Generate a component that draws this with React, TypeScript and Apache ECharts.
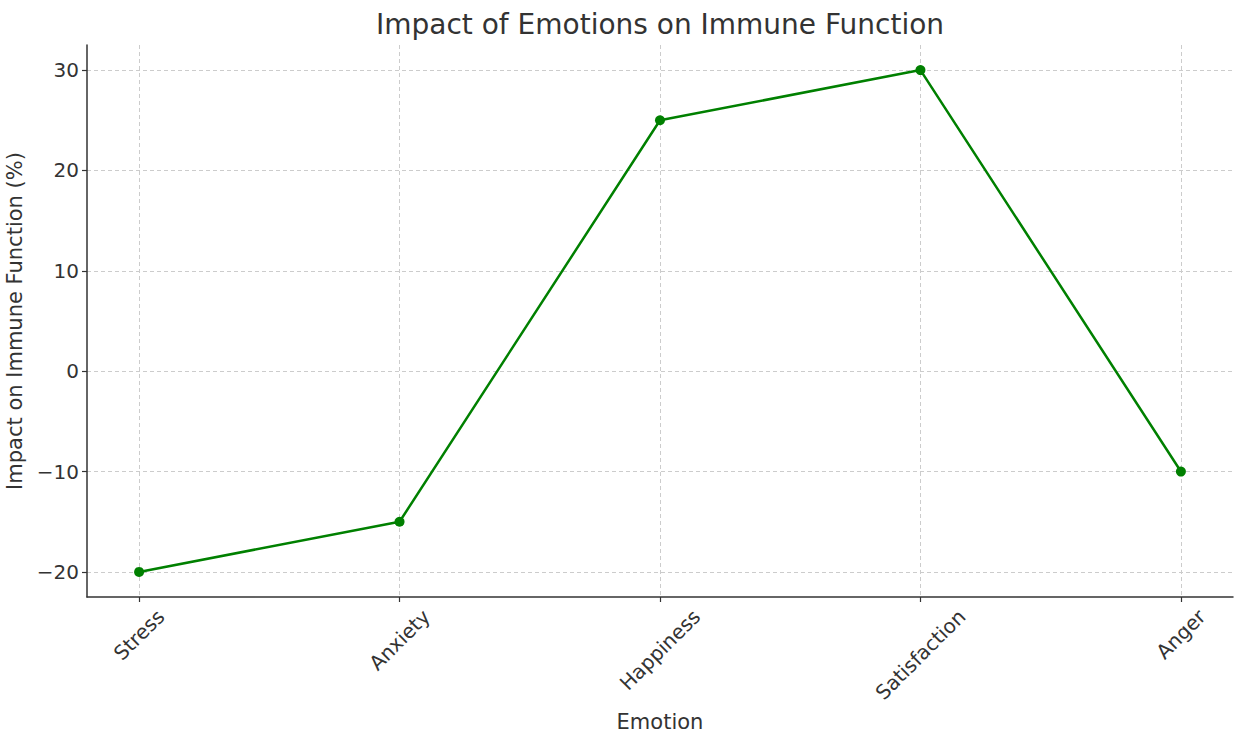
import React, { useEffect, useRef } from "react";
import * as echarts from "echarts";

const categories = ["Stress", "Anxiety", "Happiness", "Satisfaction", "Anger"];
const impactValues = [-20, -15, 25, 30, -10];
const yTicks = [-20, -10, 0, 10, 20, 30];
const xTicks = [0, 1, 2, 3, 4];

export default function App() {
  const ref = useRef<HTMLDivElement>(null);
  useEffect(() => {
    document.body.style.margin = "0";
    const chart = echarts.init(ref.current!, null, { renderer: "svg" });
    const font = "DejaVu Sans";
    const textColor = "#333333";
    const tickFont = 20;
    const X_MIN = -0.2;
    const Y_MIN = -22.5;
    chart.setOption({
      animation: false,
      backgroundColor: "#ffffff",
      title: {
        text: "Impact of Emotions on Immune Function",
        left: 655,
        top: 5,
        textAlign: "center",
        textStyle: { fontFamily: font, fontSize: 28, fontWeight: "normal", color: textColor },
      },
      grid: { left: 87, top: 45, right: 2, bottom: 137, containLabel: false, outerBoundsMode: "none" },
      xAxis: {
        type: "value",
        min: X_MIN,
        max: 4.2,
        name: "Emotion",
        nameLocation: "middle",
        nameGap: 114,
        nameTextStyle: { fontFamily: font, fontSize: 21, color: textColor },
        axisLine: { show: true, onZero: false, lineStyle: { color: "#333333", width: 1.5 } },
        axisTick: { show: true, length: 5, customValues: xTicks, lineStyle: { color: "#333333", width: 1.2 } },
        axisLabel: { show: false, customValues: xTicks },
        splitLine: { show: true, lineStyle: { color: "#cccccc", type: [4, 3], width: 1 } },
      },
      yAxis: {
        type: "value",
        min: Y_MIN,
        max: 32.5,
        name: "Impact on Immune Function (%)",
        nameLocation: "middle",
        nameGap: 61,
        nameTextStyle: { fontFamily: font, fontSize: 21, color: textColor },
        axisLine: { show: true, onZero: false, lineStyle: { color: "#333333", width: 1.5 } },
        axisTick: { show: true, length: 5, customValues: yTicks, lineStyle: { color: "#333333", width: 1.2 } },
        axisLabel: {
          customValues: yTicks,
          margin: 8,
          fontFamily: font,
          fontSize: tickFont,
          color: textColor,
          formatter: (v: number) => (v < 0 ? "\u2212" + Math.abs(v) : String(v)),
        },
        splitLine: { show: true, lineStyle: { color: "#cccccc", type: [4, 3], width: 1 } },
      },
      series: [
        {
          type: "line",
          data: impactValues.map((v, i) => [i, v]),
          lineStyle: { color: "#008000", width: 2.5 },
          itemStyle: { color: "#008000" },
          symbol: "circle",
          symbolSize: 10,
          showSymbol: true,
        },
      ],
    });

    // Rotated category labels, centred under each tick (matplotlib style)
    const canvas = document.createElement("canvas");
    const ctx = canvas.getContext("2d")!;
    ctx.font = `${tickFont}px "${font}"`;
    const axisY = chart.convertToPixel({ yAxisIndex: 0 }, Y_MIN) as number;
    const s = Math.SQRT1_2;
    const labels = categories.map((c, i) => {
      const px = chart.convertToPixel({ xAxisIndex: 0 }, xTicks[i]) as number;
      const w = ctx.measureText(c).width;
      const h = tickFont * 1.0;
      const half = ((w + h) * s) / 2;
      return {
        type: "text",
        x: px,
        y: axisY + 9 + half,
        rotation: Math.PI / 4,
        style: {
          text: c,
          font: `${tickFont}px "${font}"`,
          fill: textColor,
          textAlign: "center",
          textVerticalAlign: "middle",
        },
      };
    });
    chart.setOption({ graphic: labels });
    return () => chart.dispose();
  }, []);
  return <div ref={ref} style={{ width: 1235, height: 734 }} />;
}
